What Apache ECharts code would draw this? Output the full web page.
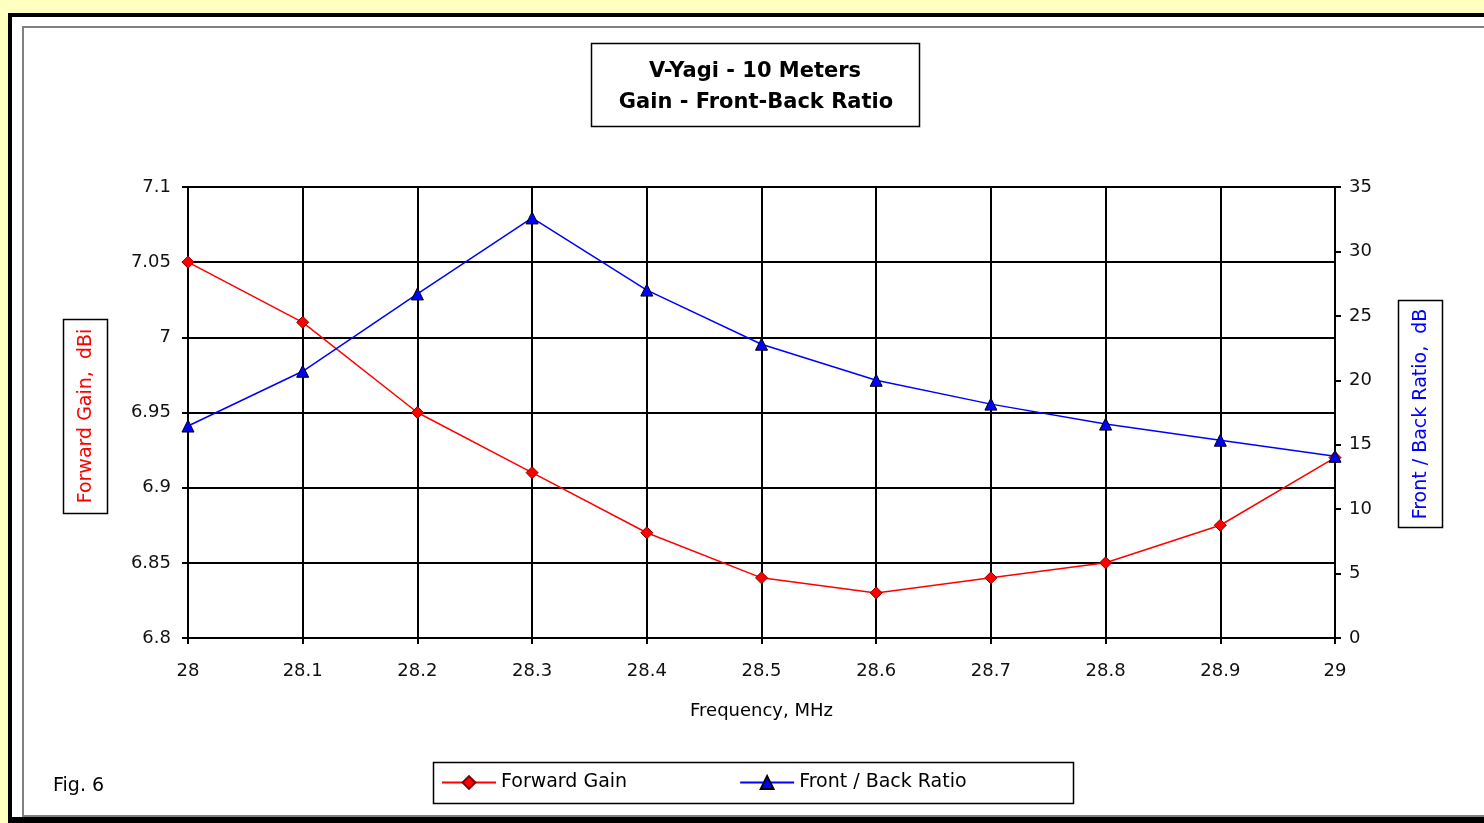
<!DOCTYPE html>
<html>
<head>
<meta charset="utf-8">
<script src="https://cdn.jsdelivr.net/npm/echarts@6/dist/echarts.min.js"></script>
<style>
  html, body { margin: 0; padding: 0; background: #ffffc0; }
  #chart { width: 1484px; height: 823px; }
</style>
</head>
<body>
<div id="chart"></div>
<script>
// ---- Data ----
const freqs = [28, 28.1, 28.2, 28.3, 28.4, 28.5, 28.6, 28.7, 28.8, 28.9, 29];
const forwardGain = [7.05, 7.01, 6.95, 6.91, 6.87, 6.84, 6.83, 6.84, 6.85, 6.875, 6.92];
const frontBackRatio = [16.45, 20.7, 26.7, 32.6, 27.0, 22.8, 20.0, 18.15, 16.6, 15.35, 14.1];
const titleLines = ['V-Yagi - 10 Meters', 'Gain - Front-Back Ratio'];
const seriesNames = ['Forward Gain', 'Front / Back Ratio'];
const leftAxisName = 'Forward Gain,  dBi';
const rightAxisName = 'Front / Back Ratio,  dB';
const xAxisName = 'Frequency, MHz';
const figLabel = 'Fig. 6';

const FONT = "'DejaVu Sans', 'Liberation Sans', Arial, sans-serif";

const chart = echarts.init(document.getElementById('chart'), null, { renderer: 'canvas' });

const gainData = freqs.map((f, i) => [f, forwardGain[i]]);
const fbData = freqs.map((f, i) => [f, frontBackRatio[i]]);

const option = {
  animation: false,
  backgroundColor: '#ffffc0',
  textStyle: { fontFamily: FONT },
  graphic: [
    // outer black frame
    { type: 'rect', z: -10, shape: { x: 8, y: 13, width: 1500, height: 830 }, style: { fill: '#000' }, silent: true },
    { type: 'rect', z: -9, shape: { x: 12, y: 17, width: 1500, height: 800 }, style: { fill: '#ffffff' }, silent: true },
    // inner gray frame
    { type: 'rect', z: -8, shape: { x: 23, y: 27, width: 1500, height: 789 }, style: { fill: '#ffffff', stroke: '#808080', lineWidth: 2 }, silent: true },
    // title box
    { type: 'rect', z: 5, shape: { x: 591.5, y: 43.5, width: 328, height: 83 }, style: { fill: '#ffffff', stroke: '#000', lineWidth: 1.5 } },
    { type: 'text', z: 6, x: 755, y: 72, style: { text: titleLines[0], font: "bold 21px " + FONT, fill: '#000', align: 'center', verticalAlign: 'middle' } },
    { type: 'text', z: 6, x: 756, y: 103, style: { text: titleLines[1], font: "bold 21px " + FONT, fill: '#000', align: 'center', verticalAlign: 'middle' } },
    // left axis name box
    { type: 'rect', z: 5, shape: { x: 63.5, y: 319.5, width: 44, height: 194 }, style: { fill: '#ffffff', stroke: '#000', lineWidth: 1.5 } },
    { type: 'text', z: 6, x: 86, y: 416, rotation: Math.PI / 2, style: { text: leftAxisName, font: "19px " + FONT, fill: '#ff0000', align: 'center', verticalAlign: 'middle' } },
    // right axis name box
    { type: 'rect', z: 5, shape: { x: 1398.5, y: 300.5, width: 44, height: 227 }, style: { fill: '#ffffff', stroke: '#000', lineWidth: 1.5 } },
    { type: 'text', z: 6, x: 1421, y: 414, rotation: Math.PI / 2, style: { text: rightAxisName, font: "19px " + FONT, fill: '#0000ff', align: 'center', verticalAlign: 'middle' } },
    // legend box
    { type: 'rect', z: 1, shape: { x: 433.5, y: 762.5, width: 640, height: 41 }, style: { fill: '#ffffff', stroke: '#000', lineWidth: 1.5 } },
    // fig label
    { type: 'text', z: 6, x: 53, y: 786, style: { text: figLabel, font: "19px " + FONT, fill: '#000', align: 'left', verticalAlign: 'middle' } }
  ],
  legend: {
    show: true,
    left: 441,
    top: 773,
    padding: 0,
    itemWidth: 54,
    itemHeight: 16,
    itemGap: 112,
    z: 10,
    data: seriesNames,
    textStyle: { fontFamily: FONT, fontSize: 19, color: '#000' }
  },
  grid: {
    left: 188,
    right: 149,
    top: 187,
    bottom: 185,
    containLabel: false,
    outerBoundsMode: 'none'
  },
  xAxis: {
    type: 'value',
    min: 28,
    max: 29,
    interval: 0.1,
    name: xAxisName,
    nameLocation: 'middle',
    nameGap: 64,
    nameTextStyle: { fontFamily: FONT, fontSize: 18, color: '#000', verticalAlign: 'top' },
    axisLine: { show: true, onZero: false, lineStyle: { color: '#000', width: 2 } },
    axisTick: { show: true, inside: false, length: 6, lineStyle: { color: '#000', width: 2 } },
    axisLabel: {
      margin: 24,
      fontFamily: FONT, fontSize: 18, color: '#111',
      showMinLabel: true, showMaxLabel: true,
      formatter: v => String(+v.toFixed(1))
    },
    splitLine: { show: true, lineStyle: { color: '#000', width: 2 } }
  },
  yAxis: [
    {
      type: 'value',
      position: 'left',
      min: 6.8,
      max: 7.1,
      interval: 0.05,
      axisLine: { show: true, lineStyle: { color: '#000', width: 2 } },
      axisTick: { show: true, inside: false, length: 6, lineStyle: { color: '#000', width: 2 } },
      axisLabel: {
        margin: 17,
        fontFamily: FONT, fontSize: 18, color: '#111',
        showMinLabel: true, showMaxLabel: true,
        formatter: v => String(+v.toFixed(2))
      },
      splitLine: { show: true, lineStyle: { color: '#000', width: 2 } }
    },
    {
      type: 'value',
      position: 'right',
      min: 0,
      max: 35,
      interval: 5,
      axisLine: { show: true, lineStyle: { color: '#000', width: 2 } },
      axisTick: { show: true, inside: false, length: 6, lineStyle: { color: '#000', width: 2 } },
      axisLabel: {
        margin: 14,
        fontFamily: FONT, fontSize: 18, color: '#111',
        showMinLabel: true, showMaxLabel: true
      },
      splitLine: { show: false }
    }
  ],
  series: [
    {
      name: seriesNames[0],
      type: 'line',
      yAxisIndex: 0,
      data: gainData,
      symbol: 'diamond',
      symbolSize: 12,
      lineStyle: { color: '#ff0000', width: 1.5 },
      itemStyle: { color: '#ff0000', borderColor: '#800000', borderWidth: 1 },
      z: 3
    },
    {
      name: seriesNames[1],
      type: 'line',
      yAxisIndex: 1,
      data: fbData,
      symbol: 'triangle',
      symbolSize: 12,
      lineStyle: { color: '#0000ff', width: 1.5 },
      itemStyle: { color: '#0000ff', borderColor: '#000', borderWidth: 1 },
      z: 4
    }
  ]
};

chart.setOption(option);
</script>
</body>
</html>
